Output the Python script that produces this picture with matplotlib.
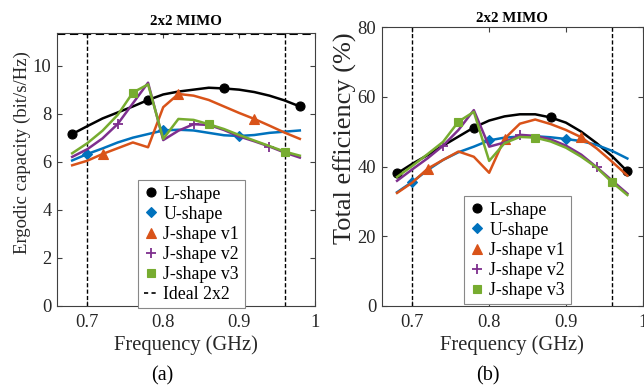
import matplotlib
matplotlib.use("Agg")
import matplotlib.pyplot as plt
from matplotlib.lines import Line2D
import numpy as np

# ---------------- data ----------------
freq = [0.68, 0.70, 0.72, 0.74, 0.76, 0.78, 0.80, 0.82,
        0.84, 0.86, 0.88, 0.90, 0.92, 0.94, 0.96, 0.98]

series_names = ["L-shape", "U-shape", "J-shape v1", "J-shape v2", "J-shape v3"]

L_cap = [7.15, 7.48, 7.80, 8.05, 8.30, 8.57, 8.80, 8.92, 9.00, 9.08, 9.05, 9.00, 8.90, 8.75, 8.55, 8.30]
U_cap = [6.05, 6.32, 6.55, 6.80, 7.00, 7.15, 7.30, 7.33, 7.30, 7.20, 7.10, 7.07, 7.11, 7.20, 7.25, 7.30]
J1_cap = [5.85, 6.04, 6.32, 6.56, 6.80, 6.60, 8.27, 8.82, 8.75, 8.57, 8.30, 8.03, 7.78, 7.50, 7.21, 6.95]
J2_cap = [6.20, 6.52, 6.97, 7.57, 8.43, 9.29, 6.90, 7.29, 7.56, 7.53, 7.32, 7.05, 6.85, 6.63, 6.38, 6.17]
J3_cap = [6.35, 6.77, 7.29, 7.95, 8.88, 9.22, 6.95, 7.78, 7.74, 7.56, 7.36, 7.11, 6.88, 6.65, 6.42, 6.25]
ideal_cap = 11.3

L_eff = [38.0, 40.8, 43.3, 46.0, 48.6, 51.2, 53.2, 54.4, 55.0, 55.0, 54.1, 52.6, 50.0, 46.7, 43.0, 38.6]
U_eff = [32.6, 35.6, 39.0, 41.9, 44.1, 45.7, 47.5, 48.3, 48.6, 48.7, 48.4, 47.9, 47.3, 46.2, 44.5, 42.3]
J1_eff = [32.4, 35.4, 39.4, 41.9, 44.3, 42.8, 38.2, 48.0, 52.3, 53.5, 52.2, 50.5, 48.4, 45.2, 41.4, 37.4]
J2_eff = [35.9, 39.2, 42.4, 46.0, 50.5, 56.2, 45.7, 46.9, 49.1, 48.8, 47.8, 46.0, 43.4, 39.8, 36.0, 32.2]
J3_eff = [37.0, 40.2, 43.6, 47.1, 52.9, 55.7, 41.6, 46.7, 48.5, 48.3, 47.2, 45.4, 42.8, 39.7, 35.5, 31.8]

band_edges = [0.70, 0.96]
x_ticks = [0.7, 0.8, 0.9, 1.0]
x_ticklabels = ["0.7", "0.8", "0.9", "1"]
cap_ticks = [0, 2, 4, 6, 8, 10]
eff_ticks = [0, 20, 40, 60, 80]

# ---------------- style ----------------
plt.rcParams['font.family'] = ['Liberation Serif', 'DejaVu Serif']
colors = ["#000000", "#0072BD", "#D95319", "#7E2F8E", "#77AC30"]
markers = ["o", "D", "^", "+", "s"]
msizes = [6.5, 5.5, 7, 7, 5.8]
mark_idx = [[0, 5, 10, 15], [1, 6, 11], [2, 7, 12], [3, 8, 13], [4, 9, 14]]
axcol = "#404040"
tickfs = 13.3

fig = plt.figure(figsize=(6.44, 3.86), dpi=100)
W, H = 644.0, 386.0
ax1 = fig.add_axes([57 / W, 1 - 305.7 / H, (315 - 57) / W, (305.7 - 33) / H])
ax2 = fig.add_axes([381.7 / W, 1 - 305.7 / H, (642.7 - 381.7) / W, (305.7 - 27.3) / H])


def style_axes(ax):
    for s in ax.spines.values():
        s.set_color(axcol)
        s.set_linewidth(0.8)
    ax.tick_params(direction='in', top=True, right=True, length=3.5, width=0.8,
                   color=axcol, labelcolor="#262626", labelsize=tickfs)
    ax.tick_params(axis='x', pad=6)
    ax.tick_params(axis='y', pad=4)


def draw(ax, data):
    for d, c, m, ms, mi in zip(data, colors, markers, msizes, mark_idx):
        ax.plot(freq, d, color=c, lw=1.8, marker=m, ms=ms, markevery=mi,
                mew=1.3 if m == "+" else 0.8, mec=c, mfc=c, zorder=3)
    for b in band_edges:
        ax.axvline(b, color='k', lw=1.0, ls=(0, (3, 1.6)), zorder=2)


def legend_handles():
    return [Line2D([], [], color=c, marker=m, ms=ms, ls='none', mec=c, mfc=c,
                   mew=1.3 if m == "+" else 0.8)
            for c, m, ms in zip(colors, markers, msizes)]


leg_kw = dict(loc='upper left', fontsize=12.8, handlelength=0.8, handletextpad=0.3,
              labelspacing=0.17, borderpad=0.32, borderaxespad=0, fancybox=False,
              framealpha=1, edgecolor="#888888")

# ---- (a) capacity ----
draw(ax1, [L_cap, U_cap, J1_cap, J2_cap, J3_cap])
ax1.axhline(ideal_cap, color='k', lw=1.5, ls=(0, (4, 2.2)), zorder=2)
ax1.set_xlim(0.66, 1.0)
ax1.set_ylim(0, 11.36)
ax1.set_xticks(x_ticks)
ax1.set_xticklabels(x_ticklabels)
ax1.set_yticks(cap_ticks)
style_axes(ax1)
ax1.set_xlabel("Frequency (GHz)", fontsize=14.8, color="#262626", labelpad=3)
ax1.set_ylabel("Ergodic capacity (bit/s/Hz)", fontsize=13.5, color="#262626")
ax1.yaxis.set_label_coords(-0.10, 0.56)
ax1.set_title("2x2 MIMO", fontsize=10.8, fontweight='bold', pad=6)
h1 = legend_handles() + [Line2D([], [], color='k', lw=1.2, ls=(0, (2.5, 2)))]
leg1 = ax1.legend(h1, series_names + ["Ideal 2x2"],
                  bbox_to_anchor=(138 / W, 1 - 180 / H), bbox_transform=fig.transFigure,
                  **leg_kw)
leg1.get_frame().set_linewidth(0.8)
leg1.set_zorder(10)
leg1.set_clip_on(False)

# ---- (b) efficiency ----
draw(ax2, [L_eff, U_eff, J1_eff, J2_eff, J3_eff])
ax2.set_xlim(0.66, 1.0)
ax2.set_ylim(0, 80)
ax2.set_xticks(x_ticks)
ax2.set_xticklabels(x_ticklabels)
ax2.set_yticks(eff_ticks)
style_axes(ax2)
ax2.set_xlabel("Frequency (GHz)", fontsize=14.8, color="#262626", labelpad=3)
ax2.set_ylabel("Total efficiency (%)", fontsize=19, color="#262626")
ax2.yaxis.set_label_coords(-0.095, 0.60)
ax2.set_title("2x2 MIMO", fontsize=10.8, fontweight='bold', pad=4)
leg2 = ax2.legend(legend_handles(), series_names,
                  bbox_to_anchor=(464 / W, 1 - 196 / H), bbox_transform=fig.transFigure,
                  **leg_kw)
leg2.get_frame().set_linewidth(0.8)

fig.text(162 / W, 1 - 376 / H, "(a)", fontsize=14.5, ha='center', va='center')
fig.text(488 / W, 1 - 376 / H, "(b)", fontsize=14.5, ha='center', va='center')

fig.savefig("out.png", dpi=100)
